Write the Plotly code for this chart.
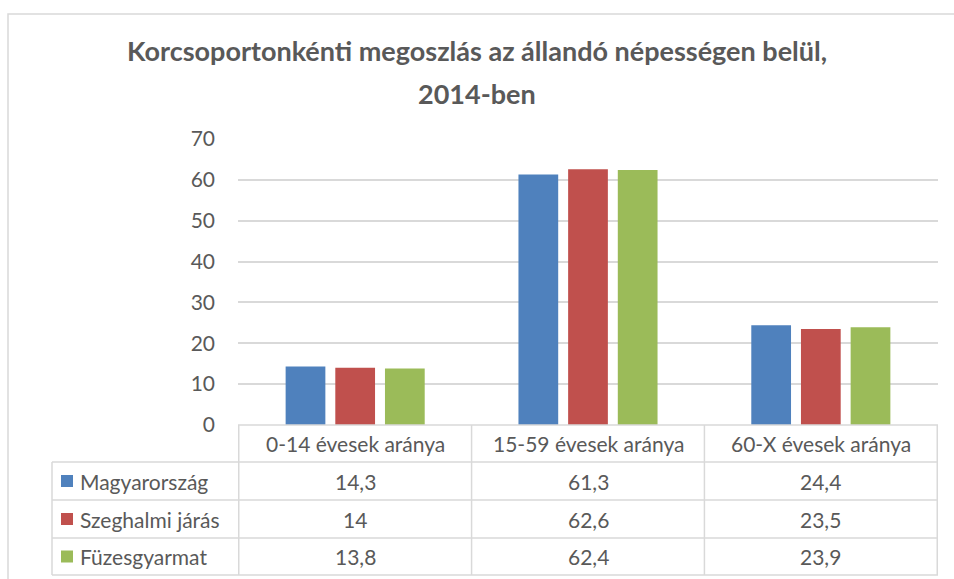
import plotly.graph_objects as go

categories = ["0-14 évesek aránya", "15-59 évesek aránya", "60-X évesek aránya"]
series_names = ["Magyarország", "Szeghalmi járás", "Füzesgyarmat"]
magyarorszag = [14.3, 61.3, 24.4]
szeghalmi = [14.0, 62.6, 23.5]
fuzesgyarmat = [13.8, 62.4, 23.9]
table_labels = [["14,3", "61,3", "24,4"], ["14", "62,6", "23,5"], ["13,8", "62,4", "23,9"]]
y_ticks = [0, 10, 20, 30, 40, 50, 60, 70]
title_line1 = "<b>Korcsoportonkénti megoszlás az állandó népességen belül,</b>"
title_line2 = "<b>2014-ben</b>"

colors = ["#4F81BD", "#C0504D", "#9BBB59"]
values = [magyarorszag, szeghalmi, fuzesgyarmat]

W, H = 954, 579
L, R, T, B = 238, 938, 139, 425
FONT = "Lato"
TXT = "#595959"
GRID = "#D9D9D9"
FS = 21

def px(x):
    return (x - L) / (R - L)

def py(y):
    return (B - y) / (B - T)

fig = go.Figure()
for name, vals, c in zip(series_names, values, colors):
    fig.add_trace(go.Bar(x=categories, y=vals, name=name, marker=dict(color=c, line=dict(width=0)),
                         showlegend=False))

shapes = []
shapes.append(dict(type="rect", xref="paper", yref="paper", x0=px(8), x1=px(970), y0=py(14), y1=py(600),
                   line=dict(color=GRID, width=1.5), fillcolor="rgba(0,0,0,0)", layer="below"))

row_lines = [425, 462, 500, 538, 575]
for i, ry in enumerate(row_lines):
    x0 = px(L) if i == 0 else px(52)
    shapes.append(dict(type="line", xref="paper", yref="paper", x0=x0, x1=px(R), y0=py(ry), y1=py(ry),
                       line=dict(color=GRID, width=1.5)))
for xe in [-0.5, 0.5, 1.5, 2.5]:
    shapes.append(dict(type="line", xref="x", yref="paper", x0=xe, x1=xe, y0=py(425), y1=py(575),
                       line=dict(color=GRID, width=1.5)))
shapes.append(dict(type="line", xref="paper", yref="paper", x0=px(52), x1=px(52), y0=py(462), y1=py(575),
                   line=dict(color=GRID, width=1.5)))

annotations = []
annotations.append(dict(x=px(W / 2), xref="paper", y=py(93), yref="paper", text=title_line2,
                        showarrow=False, font=dict(family=FONT, size=27, color=TXT),
                        xanchor="center", yanchor="middle"))
for cat in categories:
    annotations.append(dict(x=cat, xref="x", y=py(443.5), yref="paper", text=cat, showarrow=False,
                            font=dict(family=FONT, size=FS, color=TXT), xanchor="center", yanchor="middle"))
for r in range(3):
    yc = (row_lines[r + 1] + row_lines[r + 2]) / 2
    for j, cat in enumerate(categories):
        annotations.append(dict(x=cat, xref="x", y=py(yc), yref="paper", text=table_labels[r][j],
                                showarrow=False, font=dict(family=FONT, size=FS, color=TXT),
                                xanchor="center", yanchor="middle"))
    annotations.append(dict(x=px(78), xref="paper", y=py(yc), yref="paper", text=series_names[r],
                            showarrow=False, font=dict(family=FONT, size=FS, color=TXT),
                            xanchor="left", yanchor="middle"))
    shapes.append(dict(type="rect", xref="paper", yref="paper", x0=px(61), x1=px(73),
                       y0=py(yc - 6), y1=py(yc + 6), fillcolor=colors[r], line=dict(width=0)))

fig.update_layout(
    width=W, height=H,
    margin=dict(l=L, r=W - R, t=T, b=H - B, pad=0),
    paper_bgcolor="white", plot_bgcolor="white",
    barmode="group", bargap=0.36, bargroupgap=0.2,
    title=dict(text=title_line1, x=0.5, xref="container", xanchor="center",
               y=1 - 52 / H, yref="container", yanchor="middle",
               font=dict(family=FONT, size=27, color=TXT)),
    xaxis=dict(showticklabels=False, showgrid=False, zeroline=False, showline=False, ticks=""),
    yaxis=dict(range=[0, 70], tickvals=y_ticks, showgrid=True, gridcolor=GRID, gridwidth=1.5,
               zeroline=False, showline=False, ticks="", ticklabelstandoff=22,
               tickfont=dict(family=FONT, size=FS, color=TXT)),
    shapes=shapes, annotations=annotations,
)

fig.write_html("out.html", config={"displayModeBar": False},
               post_script="document.body.style.margin='0';document.body.style.padding='0';")
